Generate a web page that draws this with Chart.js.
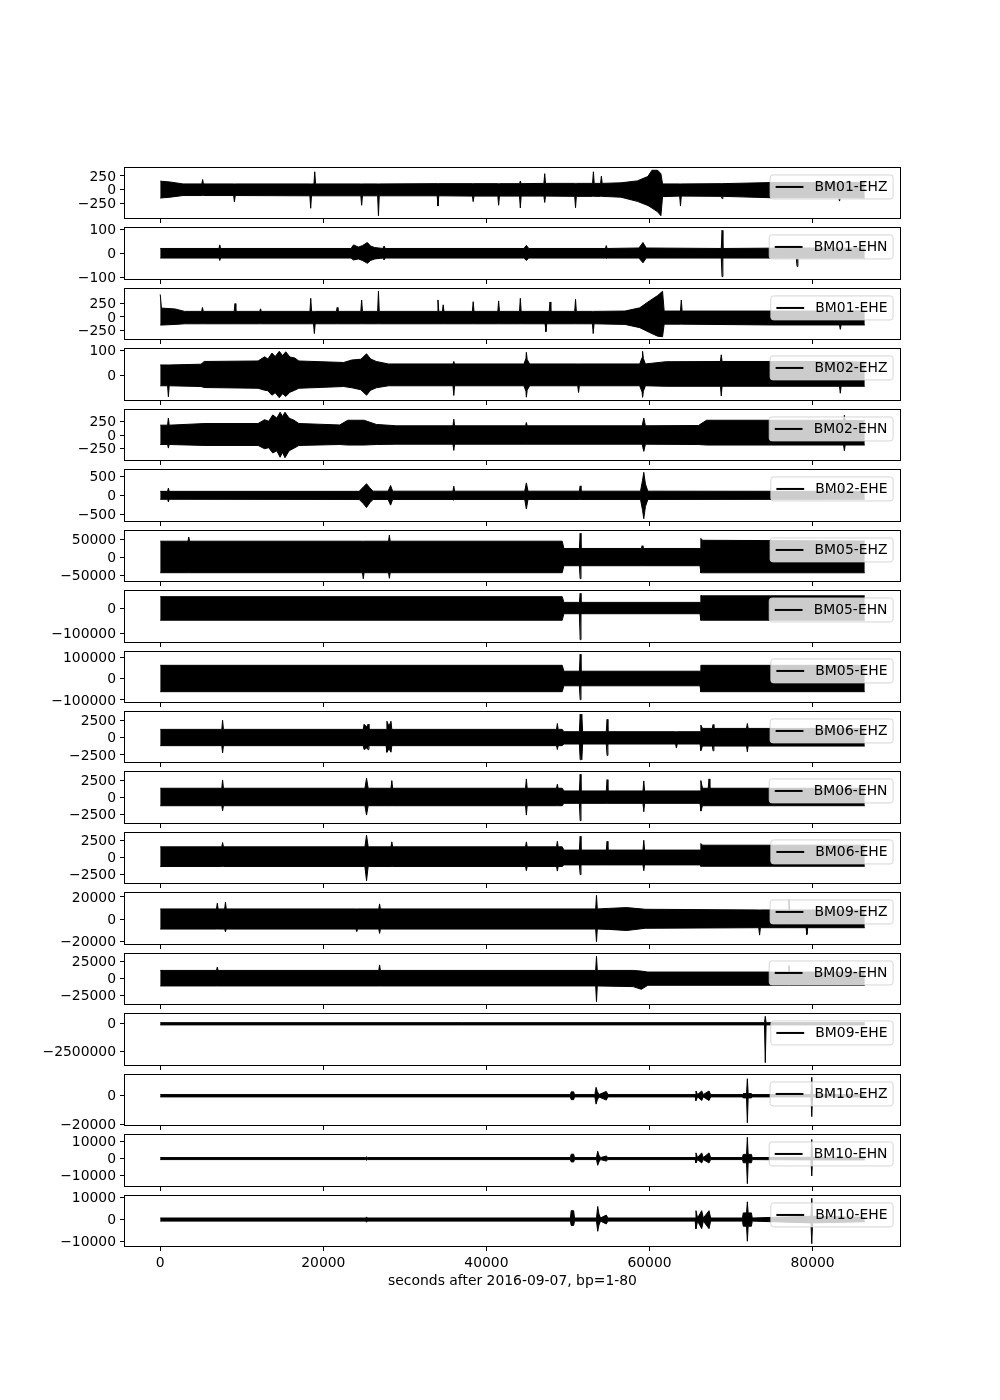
<!DOCTYPE html>
<html><head><meta charset="utf-8">
<script src="https://cdn.jsdelivr.net/npm/chart.js@4.4.1/dist/chart.umd.min.js"></script>
<style>
html,body{margin:0;padding:0;background:#fff;}
#wrap{position:relative;width:1000px;height:1400px;background:#fff;}
#wrap canvas{position:absolute;left:0;}
</style>
</head><body><div id="wrap"></div>
<script>
// ---- data: each trace as [seconds, upper envelope, lower envelope] ----
const BM01_EHZ = [[0,155,-150],[1200,140,-135],[2800,105,-105],[5100,105,-105],[5200,185,-105],[5300,105,-105],[9000,105,-105],[9100,105,-220],[9200,105,-105],[18350,105,-110],[18450,105,-335],[18550,105,-110],[18850,105,-110],[18950,325,-110],[19050,105,-110],[24600,105,-110],[24700,105,-280],[24800,105,-110],[26660,105,-110],[26760,105,-470],[26860,105,-110],[33960,110,-110],[34060,110,-295],[34160,110,-110],[38280,110,-115],[38380,110,-215],[38480,110,-115],[41400,110,-115],[41500,110,-280],[41600,110,-115],[44060,110,-115],[44160,155,-330],[44260,110,-115],[47050,115,-115],[47150,290,-230],[47250,115,-115],[50830,115,-120],[50930,115,-325],[51030,115,-120],[53020,115,-120],[53120,325,-120],[53220,115,-120],[54000,115,-120],[54100,245,-120],[54200,115,-120],[56500,125,-135],[58500,160,-210],[59800,240,-285],[60300,352,-330],[61000,352,-400],[61400,290,-470],[61600,105,-125],[63700,105,-115],[63800,105,-295],[63900,105,-115],[68800,110,-120],[68900,110,-160],[69000,110,-120],[75000,130,-145],[83200,130,-145],[83300,130,-205],[83400,130,-145],[86400,135,-150]];
const BM01_EHN = [[0,20,-20],[7200,20,-20],[7300,35,-30],[7400,20,-20],[23400,20,-20],[23700,35,-28],[24300,26,-24],[24800,32,-30],[25400,45,-42],[25800,30,-30],[26300,24,-24],[27300,20,-20],[27450,30,-28],[27600,20,-20],[44600,20,-20],[44900,33,-30],[45200,20,-20],[54600,20,-20],[54700,32,-22],[54800,20,-20],[58700,22,-20],[59200,45,-40],[59600,22,-20],[68800,20,-20],[68900,96,-98],[69000,20,-20],[78000,22,-20],[78100,22,-55],[78200,22,-20],[86400,22,-20]];
const BM01_EHE = [[0,421,-152],[150,165,-152],[1800,150,-140],[3000,104,-128],[5080,104,-128],[5180,177,-128],[5280,104,-128],[9070,104,-128],[9170,250,-128],[9270,104,-128],[12200,104,-128],[12300,152,-128],[12400,104,-128],[18360,104,-128],[18460,348,-128],[18560,104,-128],[18800,104,-128],[18900,104,-311],[19000,104,-128],[21600,104,-128],[21700,177,-128],[21800,104,-128],[24600,104,-128],[24700,317,-128],[24800,104,-128],[26660,104,-128],[26760,480,-128],[26860,104,-128],[33960,104,-128],[34060,317,-128],[34160,104,-128],[34600,104,-128],[34700,226,-128],[34800,104,-128],[38280,104,-128],[38380,285,-128],[38480,104,-128],[41400,104,-128],[41500,299,-128],[41600,104,-128],[44060,104,-128],[44160,348,-128],[44260,104,-128],[47200,104,-128],[47300,104,-275],[47400,104,-128],[47700,104,-128],[47800,280,-128],[47900,104,-128],[50830,104,-128],[50930,330,-128],[51030,104,-128],[53000,104,-128],[53100,104,-311],[53200,104,-128],[57000,110,-140],[58800,170,-200],[60000,300,-290],[61000,400,-360],[61600,480,-370],[61800,110,-135],[63800,110,-135],[63900,317,-135],[64000,110,-135],[75000,110,-150],[83300,110,-150],[83400,110,-232],[83500,110,-150],[86400,115,-150]];
const BM02_EHZ = [[0,42,-42],[900,42,-42],[1000,42,-86],[1100,42,-42],[5000,45,-45],[5400,56,-49],[12000,58,-52],[12800,75,-60],[13200,66,-62],[13700,90,-80],[14100,76,-70],[14600,97,-90],[15000,80,-74],[15400,95,-85],[15900,74,-68],[16500,70,-60],[17000,58,-52],[22500,52,-45],[23500,62,-50],[24600,65,-58],[25300,87,-80],[25800,66,-60],[26500,56,-50],[28000,46,-42],[35900,46,-42],[36000,56,-81],[36100,46,-42],[44600,46,-42],[44850,68,-64],[44900,93,-88],[45000,64,-60],[45300,46,-42],[51200,46,-42],[51300,46,-69],[51400,46,-42],[58800,46,-42],[59100,72,-68],[59150,97,-88],[59250,68,-64],[59500,46,-42],[62000,55,-44],[68700,56,-44],[68800,83,-83],[68900,56,-44],[83300,56,-44],[83400,56,-72],[83500,56,-44],[86400,53,-44]];
const BM02_EHN = [[0,186,-180],[900,186,-180],[1000,322,-248],[1100,186,-180],[5500,217,-198],[12000,217,-198],[12800,290,-260],[13300,260,-240],[13800,380,-340],[14300,320,-300],[14700,430,-420],[15000,350,-330],[15300,430,-430],[15800,320,-300],[16400,280,-250],[17000,217,-198],[22000,190,-180],[23000,279,-190],[25000,279,-190],[26500,200,-180],[29000,174,-174],[35900,174,-174],[36000,298,-292],[36100,174,-174],[44800,174,-174],[44900,236,-180],[45000,174,-174],[59100,174,-174],[59300,322,-310],[59500,174,-174],[66000,180,-180],[67000,279,-190],[75000,279,-190],[83800,279,-190],[83900,372,-298],[84000,279,-190],[86400,270,-190]];
const BM02_EHE = [[0,105,-105],[900,105,-105],[1000,191,-174],[1100,105,-105],[24400,105,-110],[24900,220,-220],[25300,305,-322],[25700,200,-200],[26100,110,-110],[27950,110,-110],[28250,261,-261],[28500,110,-110],[35900,110,-110],[36000,244,-130],[36100,110,-110],[44700,110,-110],[44900,330,-365],[45100,110,-110],[51400,110,-110],[51500,250,-110],[51600,110,-110],[58900,110,-110],[59150,400,-400],[59300,610,-620],[59500,300,-300],[59800,110,-110],[83500,105,-105],[83600,261,-105],[83700,105,-105],[86400,105,-105]];
const BM05_EHZ = [[0,44500,-41800],[3400,44500,-41800],[3500,56000,-41800],[3600,44500,-41800],[24800,44500,-41800],[24900,44500,-58300],[25000,44500,-41800],[28000,44500,-41800],[28100,61000,-57000],[28200,44500,-41800],[49300,44500,-41800],[49500,24500,-22700],[51400,24500,-22700],[51500,66200,-58300],[51600,24500,-22700],[59000,24500,-22700],[59100,32000,-22700],[59200,24500,-22700],[66200,24500,-22700],[66300,52000,-42000],[66500,47000,-42000],[86400,45000,-42000]];
const BM05_EHN = [[0,46700,-46700],[49300,46700,-46700],[49500,24000,-21000],[51400,24000,-21000],[51500,60000,-124000],[51600,24000,-21000],[66200,24000,-21000],[66300,52000,-46700],[66500,50000,-46700],[86400,50000,-46700]];
const BM05_EHE = [[0,61500,-61500],[49300,61500,-61500],[49500,34000,-34000],[51400,34000,-34000],[51500,113000,-99000],[51600,34000,-34000],[66200,34000,-34000],[66300,61500,-61500],[86400,61500,-61500]];
const BM06_EHZ = [[0,1240,-1140],[7550,1240,-1140],[7650,2570,-2190],[7750,1240,-1140],[24900,1240,-1140],[25000,2000,-1710],[25300,1600,-1500],[25500,2000,-1710],[25600,1240,-1140],[27700,1240,-1140],[27800,2430,-2100],[28050,1700,-1600],[28300,2430,-2100],[28400,1240,-1140],[48600,1240,-1140],[48700,2100,-1710],[48800,1240,-1140],[49300,1240,-1140],[49500,900,-900],[51400,900,-900],[51500,3450,-3200],[51600,2400,-2400],[51700,3450,-3200],[51800,900,-900],[54700,900,-900],[54800,2710,-2570],[54900,900,-900],[63200,900,-900],[63300,900,-1500],[63400,900,-900],[66200,900,-900],[66300,1860,-1860],[66500,1380,-1200],[67700,1380,-1200],[67800,1950,-1900],[67900,1380,-1200],[71900,1380,-1200],[72000,2100,-2050],[72100,1380,-1200],[86400,1380,-1200]];
const BM06_EHN = [[0,1340,-1240],[7550,1340,-1240],[7650,2570,-1980],[7750,1340,-1240],[25100,1340,-1240],[25300,2820,-2620],[25500,1340,-1240],[28300,1340,-1240],[28400,2475,-1240],[28500,1340,-1240],[44800,1340,-1240],[44900,2720,-2620],[45000,1340,-1240],[48600,1340,-1240],[48700,1930,-1240],[48800,1340,-1240],[49300,1340,-1240],[49500,940,-890],[51400,940,-890],[51500,3400,-3450],[51600,940,-890],[54700,940,-890],[54800,2620,-890],[54900,940,-890],[59200,940,-890],[59300,2420,-2130],[59400,940,-890],[66200,940,-890],[66300,2475,-2030],[66500,1340,-1240],[67200,1340,-1240],[67300,2720,-1240],[67400,1340,-1240],[86400,1340,-1240]];
const BM06_EHE = [[0,1520,-1330],[7550,1520,-1330],[7650,2140,-1330],[7750,1520,-1330],[25100,1520,-1330],[25300,3200,-3400],[25500,1520,-1330],[28300,1520,-1330],[28400,2240,-1330],[28500,1520,-1330],[44800,1520,-1330],[44900,2240,-1950],[45000,1520,-1330],[48600,1520,-1330],[48700,2330,-2000],[48800,1520,-1330],[49300,1520,-1330],[49500,1050,-1100],[51400,1050,-1100],[51500,3050,-2520],[51600,1050,-1100],[54700,1050,-1100],[54800,2330,-1100],[54900,1050,-1100],[59200,1050,-1100],[59300,2475,-1950],[59400,1050,-1100],[66200,1050,-1100],[66300,2000,-1300],[66500,1760,-1300],[86400,1760,-1300]];
const BM09_EHZ = [[0,9300,-8700],[6900,9300,-8700],[7000,14400,-8700],[7100,9300,-8700],[7900,9300,-8700],[8000,15300,-11100],[8100,9300,-8700],[24000,9300,-8700],[24100,9300,-11000],[24200,9300,-8700],[26800,9300,-8700],[26900,13800,-12600],[27000,9300,-8700],[53400,9300,-8700],[53500,21500,-20000],[53600,9300,-8700],[55000,9800,-9000],[57200,10500,-10000],[59500,9000,-8000],[73400,8400,-7500],[73500,8400,-14100],[73600,8400,-7500],[77000,8400,-7500],[77100,17400,-7500],[77200,8400,-7500],[79200,8400,-7500],[79300,8400,-13500],[79400,8400,-7500],[86400,8400,-7500]];
const BM09_EHN = [[0,12000,-11000],[6900,12000,-11000],[7000,16800,-11000],[7100,12000,-11000],[26800,12000,-11000],[26900,20200,-11000],[27000,12000,-11000],[53400,12000,-11000],[53500,33000,-34400],[53600,12000,-11000],[58000,12000,-12000],[59000,11000,-16000],[59800,9600,-10000],[77000,9600,-10000],[77100,19200,-10000],[77200,9600,-10000],[86400,9600,-10000]];
const BM09_EHE = [[0,100000,-100000],[74100,100000,-100000],[74200,670000,-3490000],[74300,100000,-100000],[86400,100000,-100000]];
const BM10_EHZ = [[0,800,-800],[50300,800,-800],[50400,2700,-2700],[50700,2700,-2700],[50800,800,-800],[53300,800,-800],[53450,5800,-5800],[53600,3000,-3000],[53800,800,-800],[54700,3000,-3000],[54900,800,-800],[65600,800,-800],[65700,3300,-3300],[65900,800,-800],[66400,3300,-3300],[66600,800,-800],[67300,3300,-3300],[67500,800,-800],[71400,800,-800],[71500,1500,-1500],[71900,1500,-1500],[72000,11800,-18700],[72100,1500,-1500],[72500,1500,-1500],[72600,800,-800],[79800,800,-800],[79900,12800,-14500],[80000,800,-800],[86400,800,-800]];
const BM10_EHN = [[0,600,-600],[25200,600,-600],[25300,1000,-1000],[25400,600,-600],[50300,600,-600],[50400,2600,-2000],[50700,2600,-2000],[50800,600,-600],[53500,600,-600],[53650,4400,-4000],[53800,2000,-2000],[54000,600,-600],[54700,1500,-1500],[54900,600,-600],[65600,600,-600],[65700,3400,-2600],[65900,600,-600],[66400,3400,-2600],[66600,600,-600],[67300,3400,-2600],[67500,600,-600],[71400,600,-600],[71500,2500,-2500],[71900,2500,-2500],[72000,12700,-15000],[72100,2500,-2500],[72500,2500,-2500],[72600,600,-600],[79800,800,-800],[79900,11400,-10400],[80000,800,-800],[86400,800,-800]];
const BM10_EHE = [[0,700,-700],[25200,700,-700],[25300,1200,-1200],[25400,700,-700],[50300,700,-700],[50400,4000,-2660],[50700,4000,-2660],[50800,700,-700],[53500,700,-700],[53650,5900,-5300],[53800,2500,-2500],[54000,700,-700],[54700,2000,-2000],[54900,700,-700],[65600,700,-700],[65700,4000,-4100],[65900,700,-700],[66400,4000,-4100],[66600,700,-700],[67300,4000,-4100],[67500,700,-700],[71400,700,-700],[71500,3000,-3000],[71900,3000,-3000],[72000,8000,-9770],[72100,3000,-3000],[72500,3000,-3000],[72600,700,-700],[79800,1500,-1500],[79900,9600,-10900],[80000,1500,-1500],[86400,1000,-1000]];

const LABELS = ['BM01-EHZ','BM01-EHN','BM01-EHE','BM02-EHZ','BM02-EHN','BM02-EHE','BM05-EHZ','BM05-EHN','BM05-EHE','BM06-EHZ','BM06-EHN','BM06-EHE','BM09-EHZ','BM09-EHN','BM09-EHE','BM10-EHZ','BM10-EHN','BM10-EHE'];
const TRACES = [BM01_EHZ,BM01_EHN,BM01_EHE,BM02_EHZ,BM02_EHN,BM02_EHE,BM05_EHZ,BM05_EHN,BM05_EHE,BM06_EHZ,BM06_EHN,BM06_EHE,BM09_EHZ,BM09_EHN,BM09_EHE,BM10_EHZ,BM10_EHN,BM10_EHE];
const YTICKS = [[250,0,-250],[100,0,-100],[250,0,-250],[100,0],[250,0,-250],[500,0,-500],[50000,0,-50000],[0,-100000],[100000,0,-100000],[2500,0,-2500],[2500,0,-2500],[2500,0,-2500],[20000,0,-20000],[25000,0,-25000],[0,-2500000],[0,-20000],[10000,0,-10000],[10000,0,-10000]];
const XTICKS = [0,20000,40000,60000,80000];
const T_START = 0, T_END = 86400;
const XTITLE = 'seconds after 2016-09-07, bp=1-80';

// ---- layout (matplotlib-like subplot grid) ----
const FIG_TOP = 168, FIG_BOTTOM = 1246, N = TRACES.length, HSPACE = 0.2;
const AXH = (FIG_BOTTOM - FIG_TOP) / (N + (N - 1) * HSPACE);
const FS = 13.9;
const FONT = '"DejaVu Sans", sans-serif';
Chart.defaults.font.family = FONT;
Chart.defaults.font.size = FS;
Chart.defaults.color = '#000';

const fmt = v => (v < 0 ? '\u2212' + Math.abs(v) : String(v));

function overlayPlugin(label) {
  return {
    id: 'overlay',
    afterDatasetsDraw(chart) {
      const ctx = chart.ctx, a = chart.chartArea;
      ctx.save();
      // spines
      ctx.strokeStyle = '#000'; ctx.lineWidth = 1;
      ctx.strokeRect(Math.round(a.left) - 0.5, Math.round(a.top) - 0.5,
                     Math.round(a.right) - Math.round(a.left) + 1, Math.round(a.bottom) - Math.round(a.top) + 1);
      // legend box
      ctx.font = FS + 'px ' + FONT;
      const tw = ctx.measureText(label).width;
      const bp = 0.4 * FS, hl = 2 * FS, htp = 0.8 * FS;
      const bh = 24, bw = bp + hl + htp + tw + bp;
      const right = a.right - 0.5 * FS, top = a.top + 0.5 * FS, left = right - bw;
      const r = 2.8;
      ctx.beginPath();
      ctx.moveTo(left + r, top);
      ctx.lineTo(right - r, top); ctx.quadraticCurveTo(right, top, right, top + r);
      ctx.lineTo(right, top + bh - r); ctx.quadraticCurveTo(right, top + bh, right - r, top + bh);
      ctx.lineTo(left + r, top + bh); ctx.quadraticCurveTo(left, top + bh, left, top + bh - r);
      ctx.lineTo(left, top + r); ctx.quadraticCurveTo(left, top, left + r, top);
      ctx.closePath();
      ctx.fillStyle = 'rgba(255,255,255,0.8)';
      ctx.fill();
      ctx.strokeStyle = 'rgba(204,204,204,0.8)';
      ctx.lineWidth = 1;
      ctx.stroke();
      const cy = top + bh / 2;
      ctx.strokeStyle = '#000'; ctx.lineWidth = 2;
      ctx.beginPath(); ctx.moveTo(left + bp, cy); ctx.lineTo(left + bp + hl, cy); ctx.stroke();
      ctx.fillStyle = '#000'; ctx.textBaseline = 'middle'; ctx.textAlign = 'left';
      ctx.fillText(label, left + bp + hl + htp, cy + 0.5);
      ctx.restore();
    }
  };
}

const wrap = document.getElementById('wrap');
const xMargin = 0.05 * (T_END - T_START);
for (let i = 0; i < N; i++) {
  const topF = FIG_TOP + i * AXH * (1 + HSPACE);
  const t = Math.round(topF), b = Math.round(topF + AXH), h = b - t;
  const isLast = i === N - 1;
  const PADT = 20, xh = isLast ? 44 : 20;
  const cv = document.createElement('canvas');
  const H = PADT + h + xh;
  cv.width = 1000; cv.height = H;
  cv.style.width = '1000px'; cv.style.height = H + 'px';
  cv.style.top = (t - PADT) + 'px';
  wrap.appendChild(cv);

  const tr = TRACES[i];
  const hi = tr.map(p => ({x: p[0], y: p[1]}));
  const lo = tr.map(p => ({x: p[0], y: p[2]}));
  const dmax = Math.max(...tr.map(p => p[1])), dmin = Math.min(...tr.map(p => p[2]));
  const m = 0.05 * (dmax - dmin);
  const yt = YTICKS[i];

  new Chart(cv, {
    type: 'line',
    data: {datasets: [
      {data: hi, borderColor: '#000', backgroundColor: '#000', borderWidth: 1, pointRadius: 0, fill: '+1', tension: 0},
      {data: lo, borderColor: '#000', backgroundColor: '#000', borderWidth: 1, pointRadius: 0, fill: false, tension: 0}
    ]},
    options: {
      responsive: false, animation: false, devicePixelRatio: 1,
      events: [],
      layout: {padding: {top: PADT, left: 0, right: 100, bottom: 0}},
      plugins: {legend: {display: false}, tooltip: {enabled: false}},
      scales: {
        x: {
          type: 'linear', bounds: 'data', min: T_START - xMargin, max: T_END + xMargin,
          afterBuildTicks: s => { s.ticks = XTICKS.map(v => ({value: v})); },
          afterFit: s => { s.height = xh; },
          grid: {drawOnChartArea: false, drawTicks: true, tickLength: 5, color: '#000', lineWidth: 1},
          border: {display: false},
          ticks: {display: isLast, autoSkip: false, maxRotation: 0, padding: 4, color: '#000', callback: v => fmt(v)},
          title: {display: isLast, text: XTITLE, color: '#000', padding: {top: 2, bottom: 0}}
        },
        y: {
          type: 'linear', bounds: 'data', min: dmin - m, max: dmax + m,
          afterBuildTicks: s => { s.ticks = yt.map(v => ({value: v})); },
          afterFit: s => { s.width = 125; },
          grid: {drawOnChartArea: false, drawTicks: true, tickLength: 5, color: '#000', lineWidth: 1},
          border: {display: false},
          ticks: {autoSkip: false, padding: 4, labelOffset: 1, color: '#000', callback: v => fmt(v)}
        }
      }
    },
    plugins: [overlayPlugin(LABELS[i])]
  });
}
</script>
</body></html>
